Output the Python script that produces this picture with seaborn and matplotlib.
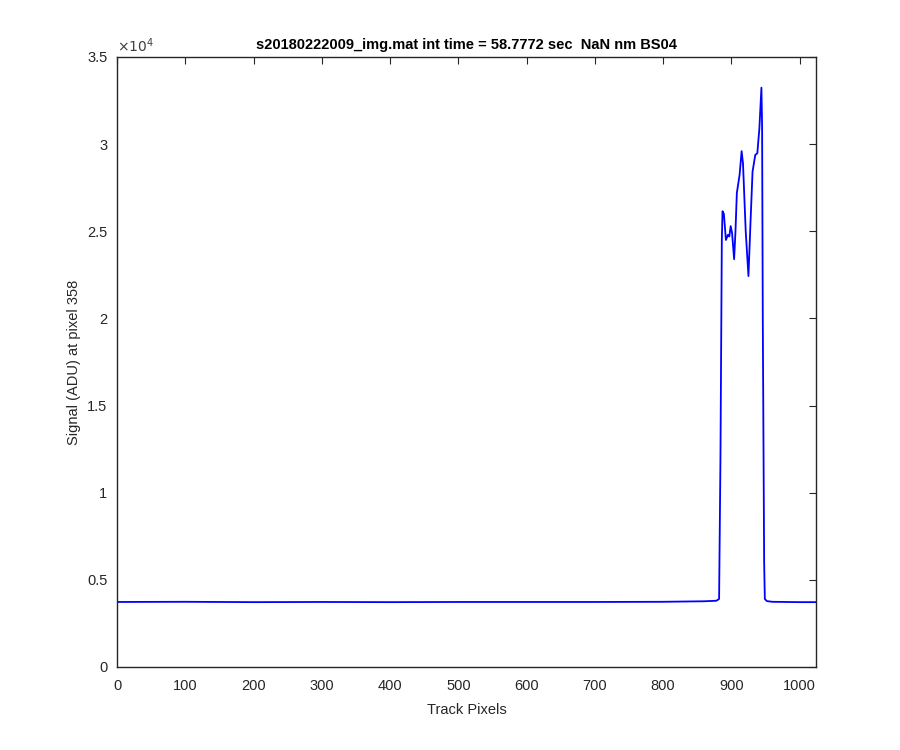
import numpy as np
import pandas as pd
import matplotlib
matplotlib.use("Agg")
import matplotlib.pyplot as plt
import seaborn as sns

sns.set_theme(style="white")
plt.rcParams['font.family'] = ['Liberation Sans', 'DejaVu Sans']

# track pixel positions and signal
track_px = [0, 100, 200, 300, 400, 500, 600, 700, 800, 860, 878, 882, 884, 886,
            887, 889, 892, 895, 897, 899, 901, 904, 906, 908, 912, 915, 917,
            921, 925, 928, 931, 935, 938, 941, 944, 945, 946, 948, 949, 952,
            960, 1000, 1024]
signal = [3730, 3740, 3720, 3730, 3720, 3730, 3730, 3730, 3740, 3770, 3800, 3900,
          12000, 24500, 26150, 26000, 24500, 24800, 24700, 25300, 24900, 23400,
          25000, 27200, 28230, 29600, 28900, 25000, 22430, 25500, 28420, 29380,
          29480, 30900, 33240, 31000, 20000, 6000, 3900, 3780, 3740, 3720, 3720]

df = pd.DataFrame({'px': track_px, 'sig': signal})

fig = plt.figure(figsize=(9, 7.5), dpi=100)
ax = fig.add_axes([0.13, 0.1107, 0.7767, 0.8133])

sns.lineplot(data=df, x='px', y='sig', color=(0, 0, 1), linewidth=1.3, ax=ax)

ax.set_xlim(0, 1024)
ax.set_ylim(0, 35000)
ax.set_xticks(range(0, 1001, 100))
yt = np.arange(0, 35001, 5000)
ax.set_yticks(yt)
ax.set_yticklabels(['0', '0.5', '1', '1.5', '2', '2.5', '3', '3.5'])
ax.text(0.0, 1.004, r'$\times10^4$', transform=ax.transAxes, fontsize=10,
        color='#404040', ha='left', va='bottom')

ax.tick_params(axis='x', pad=9)
ax.tick_params(axis='y', pad=7)
ax.tick_params(direction='in', length=5, width=0.8, top=True, right=True,
               labelsize=10.5, colors='#262626')
for s in ax.spines.values():
    s.set_color('#262626')
    s.set_linewidth(1.0)

ax.set_xlabel('Track Pixels', fontsize=10.5, color='#262626', labelpad=7)
ax.set_ylabel('Signal (ADU) at pixel 358', fontsize=10.5, color='#262626')
ax.set_title('s20180222009_img.mat int time = 58.7772 sec  NaN nm BS04',
             fontsize=10.5, fontweight='bold', color='black', pad=6)

fig.savefig('out.png', dpi=100)
